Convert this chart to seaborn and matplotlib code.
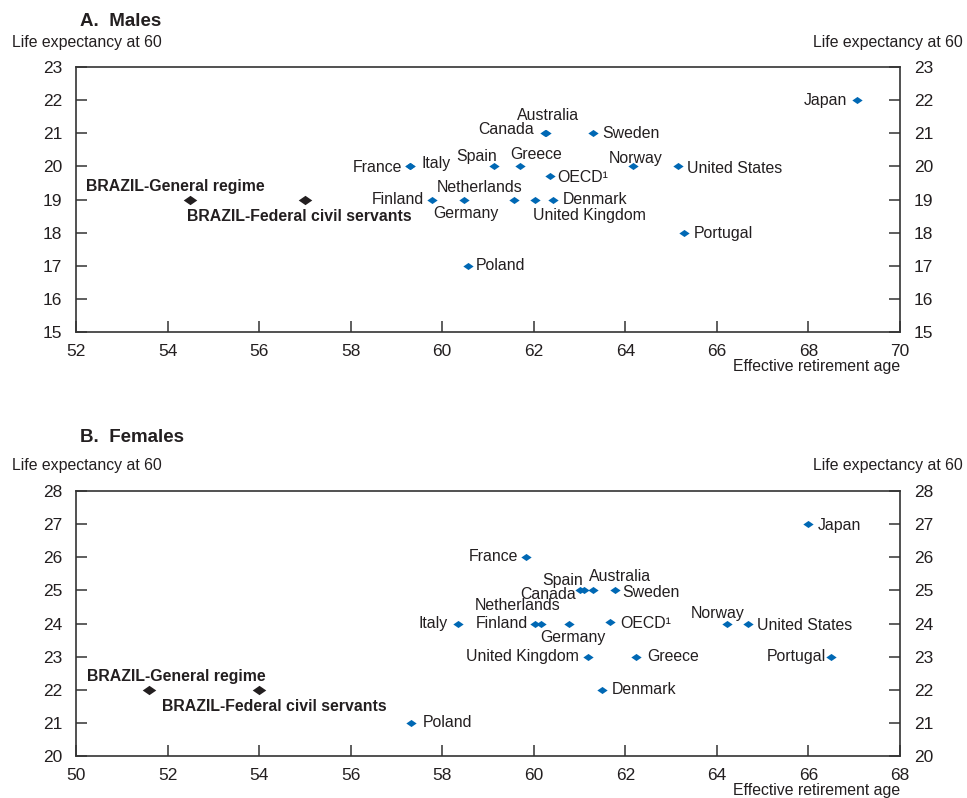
import matplotlib
matplotlib.use("Agg")
import matplotlib.pyplot as plt
import seaborn as sns
import pandas as pd
from matplotlib import font_manager

# ---------------- data ----------------
countries_m = ["Japan", "Australia", "Canada", "Sweden", "France", "Italy", "Spain", "Greece",
               "OECD¹", "Norway", "United States", "Finland", "Netherlands", "Germany",
               "United Kingdom", "Denmark", "Portugal", "Poland"]
retire_m = [69.05, 62.26, 62.25, 63.29, 59.29, 59.3, 61.13, 61.69,
            62.35, 64.16, 65.14, 59.77, 61.56, 60.47, 62.02, 62.41, 65.28, 60.56]
life_m = [22, 21, 21, 21, 20, 20, 20, 20, 19.7, 20, 20, 19, 19, 19, 19, 19, 18, 17]

brazil_labels = ["BRAZIL-General regime", "BRAZIL-Federal civil servants"]
brazil_retire_m = [54.5, 57.0]
brazil_life_m = [19, 19]

countries_f = ["Japan", "France", "Spain", "Canada", "Australia", "Sweden", "Italy",
               "Netherlands", "Finland", "Germany", "OECD¹", "Norway", "United States",
               "United Kingdom", "Greece", "Portugal", "Denmark", "Poland"]
retire_f = [66.0, 59.83, 61.1, 61.0, 61.3, 61.78, 58.34,
            60.15, 60.02, 60.76, 61.66, 64.21, 64.67,
            61.18, 62.23, 66.5, 61.48, 57.31]
life_f = [27, 26, 25, 25, 25, 25, 24, 24, 24, 24, 24.05, 24, 24, 23, 23, 23, 22, 21]

brazil_retire_f = [51.6, 54.0]
brazil_life_f = [22, 22]

# ---------------- label layout (pixel offsets, alignment) ----------------
offs_m = {
    "Japan": (-9, 0, "right"), "Australia": (2, 18, "center"), "Canada": (-11, 4, "right"),
    "Sweden": (9, 0, "left"), "France": (-8, -1, "right"), "Italy": (11, 3, "left"),
    "Spain": (-17, 10, "center"), "Greece": (17, 12, "center"), "OECD¹": (7, -1, "left"),
    "Norway": (3, 8, "center"), "United States": (9, -2, "left"), "Finland": (-8, 0, "right"),
    "Netherlands": (-34, 12, "center"), "Germany": (2, -14, "center"),
    "United Kingdom": (-2, -16, "left"), "Denmark": (10, 0, "left"),
    "Portugal": (10, -1, "left"), "Poland": (8, 0, "left"),
    "BRAZIL-General regime": (-104, 13, "left"),
    "BRAZIL-Federal civil servants": (-118, -17, "left"),
}
offs_f = {
    "Japan": (9, -1, "left"), "France": (-8, 1, "right"), "Spain": (-1, 10, "right"),
    "Canada": (-4, -4, "right"), "Australia": (27, 14, "center"), "Sweden": (7, -2, "left"),
    "Italy": (-10, 0, "right"), "Netherlands": (-23, 18, "center"),
    "Finland": (-7, 0, "right"), "Germany": (4, -14, "center"), "OECD¹": (10, -2, "left"),
    "Norway": (-9, 10, "center"), "United States": (9, -2, "left"),
    "United Kingdom": (-9, 0, "right"), "Greece": (11, 0, "left"),
    "Portugal": (-5, 0, "right"), "Denmark": (10, 0, "left"), "Poland": (12, 0, "left"),
    "BRAZIL-General regime": (-62, 13, "left"),
    "BRAZIL-Federal civil servants": (-97, -17, "left"),
}

# ---------------- style ----------------
sns.set_style("white")
plt.rcParams["font.family"] = ["Liberation Sans", "DejaVu Sans"]
avail = {f.name for f in font_manager.fontManager.ttflist}
tick_family = ["Liberation Sans Narrow", "Liberation Sans"] if "Liberation Sans Narrow" in avail else ["Liberation Sans"]
tick_size = 13 if "Liberation Sans Narrow" in avail else 12.5

TXT = "#231f20"
BLUE = "#0068b4"
DARK = "#231f20"
FS = 11.4

diamond = [(0, 1), (1.45, 0), (0, -1), (-1.45, 0), (0, 1)]

fig = plt.figure(figsize=(9.67, 7.98), dpi=100)
W, H = 967, 798


def make_panel(top_px, title, xs, ys, names, bx, by, xlim, ylim, offs, title_y, lab_y, xlab_y):
    bottom_px = top_px + 265
    ax = fig.add_axes([76 / W, 1 - bottom_px / H, 824 / W, 265 / H])
    df = pd.DataFrame({"x": xs, "y": ys, "name": names})
    dfb = pd.DataFrame({"x": bx, "y": by, "name": brazil_labels})
    sns.scatterplot(data=df, x="x", y="y", ax=ax, marker=diamond, s=55, color=BLUE,
                    edgecolor=BLUE, linewidth=0, zorder=3, legend=False)
    sns.scatterplot(data=dfb, x="x", y="y", ax=ax, marker=diamond, s=95, color=DARK,
                    edgecolor=DARK, linewidth=0, zorder=3, legend=False)
    for _, r in df.iterrows():
        dx, dy, ha = offs[r["name"]]
        ax.annotate(r["name"], (r["x"], r["y"]), xytext=(dx, dy), textcoords="offset pixels",
                    ha=ha, va="center", fontsize=FS, color=TXT)
    for _, r in dfb.iterrows():
        dx, dy, ha = offs[r["name"]]
        ax.annotate(r["name"], (r["x"], r["y"]), xytext=(dx, dy), textcoords="offset pixels",
                    ha=ha, va="center", fontsize=FS, color=TXT, fontweight="bold")
    ax.set_xlim(*xlim)
    ax.set_ylim(*ylim)
    ax.set_xticks(range(xlim[0], xlim[1] + 1, 2))
    ax.set_yticks(range(ylim[0], ylim[1] + 1))
    ax.set_xlabel("")
    ax.set_ylabel("")
    ax.tick_params(axis="both", direction="in", length=8, width=1.1, color="#333333",
                   labelsize=tick_size, labelcolor=TXT)
    ax.tick_params(axis="y", left=True, right=True, labelleft=True, labelright=True, pad=10)
    ax.tick_params(axis="x", bottom=True, pad=9)
    for lab in ax.get_xticklabels() + ax.get_yticklabels():
        lab.set_family(tick_family)
    for t in ax.yaxis.get_major_ticks():
        t.label2.set_family(tick_family)
    for sp in ax.spines.values():
        sp.set_visible(True)
        sp.set_color("#333333")
        sp.set_linewidth(1.2)
    fig.text(80 / W, 1 - title_y / H, title, fontsize=13.5, fontweight="bold", color=TXT,
             ha="left", va="center")
    fig.text(12 / W, 1 - lab_y / H, "Life expectancy at 60", fontsize=FS, color=TXT,
             ha="left", va="center")
    fig.text(963 / W, 1 - lab_y / H, "Life expectancy at 60", fontsize=FS, color=TXT,
             ha="right", va="center")
    fig.text(900 / W, 1 - xlab_y / H, "Effective retirement age", fontsize=FS, color=TXT,
             ha="right", va="center")
    return ax


make_panel(67, "A.  Males", retire_m, life_m, countries_m, brazil_retire_m, brazil_life_m,
           (52, 70), (15, 23), offs_m, 22, 42, 367)
make_panel(491, "B.  Females", retire_f, life_f, countries_f, brazil_retire_f, brazil_life_f,
           (50, 68), (20, 28), offs_f, 437, 465, 791)

fig.savefig("out.png", dpi=100)
